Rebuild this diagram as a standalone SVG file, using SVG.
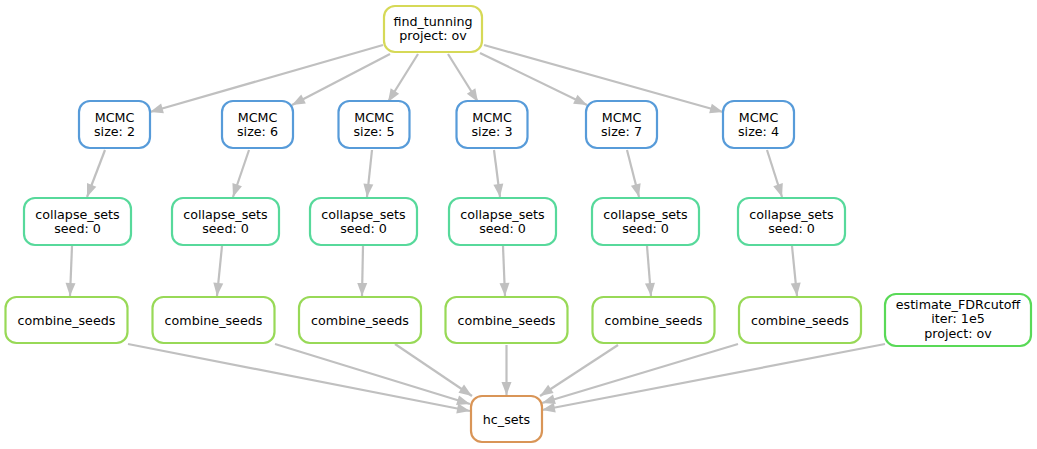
<svg xmlns="http://www.w3.org/2000/svg" width="1037" height="449" viewBox="0 0 1037 449">
<style>
.n rect{fill:#fff;stroke-width:2.2}
.n text{font-family:"DejaVu Sans",Verdana,sans-serif;font-size:12.7px;fill:#000;text-anchor:middle}
.ft rect{stroke:#d6d957}
.mc rect{stroke:#579bd9}
.cs rect{stroke:#57d99b}
.cb rect{stroke:#98d957}
.ef rect{stroke:#59d957}
.hc rect{stroke:#d99557}
#edges line{stroke:#c0c0c0;stroke-width:2.2;fill:none;marker-end:url(#arr)}
</style>
<defs>
<marker id="arr" markerUnits="userSpaceOnUse" markerWidth="16" markerHeight="14" viewBox="0 -7 16 14" refX="13" refY="0" orient="auto" overflow="visible">
<path d="M0,-5 L13,0 L0,5 z" fill="#c0c0c0"/>
</marker>
</defs>
<rect width="1037" height="449" fill="#fff"/>
<g id="edges">
<line x1="383" y1="45" x2="150" y2="112"/>
<line x1="390" y1="54" x2="292" y2="105"/>
<line x1="418" y1="54" x2="388" y2="102"/>
<line x1="448" y1="54" x2="478" y2="102"/>
<line x1="480" y1="53" x2="587" y2="105"/>
<line x1="484" y1="45" x2="723" y2="112"/>
<line x1="105" y1="150" x2="87" y2="197"/>
<line x1="249" y1="150" x2="233" y2="197"/>
<line x1="372" y1="150" x2="367" y2="197"/>
<line x1="494" y1="150" x2="500" y2="197"/>
<line x1="627" y1="150" x2="639" y2="197"/>
<line x1="767" y1="150" x2="782" y2="197"/>
<line x1="72" y1="246" x2="70" y2="296"/>
<line x1="222" y1="246" x2="217" y2="296"/>
<line x1="363" y1="246" x2="362" y2="296"/>
<line x1="503" y1="246" x2="505" y2="296"/>
<line x1="647" y1="246" x2="651" y2="296"/>
<line x1="792" y1="246" x2="797" y2="296"/>
<line x1="128" y1="344" x2="470" y2="411"/>
<line x1="275" y1="344" x2="470" y2="404"/>
<line x1="395" y1="344" x2="472" y2="396"/>
<line x1="506.5" y1="345" x2="506.5" y2="395"/>
<line x1="618" y1="345" x2="540" y2="396"/>
<line x1="738" y1="344" x2="542" y2="403"/>
<line x1="885" y1="344" x2="542" y2="410"/>
</g>
<g id="find_tunning" class="n ft"><rect x="384" y="6" width="98" height="46" rx="11"/><text x="433" y="26">find_tunning</text><text x="433" y="40">project: ov</text></g>
<g id="mcmc_2" class="n mc"><rect x="79" y="101" width="71" height="47" rx="11"/><text x="114.5" y="122">MCMC</text><text x="114.5" y="136">size: 2</text></g>
<g id="mcmc_6" class="n mc"><rect x="222" y="101" width="71" height="47" rx="11"/><text x="257.5" y="122">MCMC</text><text x="257.5" y="136">size: 6</text></g>
<g id="mcmc_5" class="n mc"><rect x="338.5" y="101" width="71" height="47" rx="11"/><text x="374" y="122">MCMC</text><text x="374" y="136">size: 5</text></g>
<g id="mcmc_3" class="n mc"><rect x="456.5" y="101" width="71" height="47" rx="11"/><text x="492" y="122">MCMC</text><text x="492" y="136">size: 3</text></g>
<g id="mcmc_7" class="n mc"><rect x="586" y="101" width="71" height="47" rx="11"/><text x="621.5" y="122">MCMC</text><text x="621.5" y="136">size: 7</text></g>
<g id="mcmc_4" class="n mc"><rect x="723" y="101" width="71" height="47" rx="11"/><text x="758.5" y="122">MCMC</text><text x="758.5" y="136">size: 4</text></g>
<g id="collapse_1" class="n cs"><rect x="24" y="198" width="107" height="47" rx="11"/><text x="77.5" y="219">collapse_sets</text><text x="77.5" y="233">seed: 0</text></g>
<g id="collapse_2" class="n cs"><rect x="172" y="198" width="107" height="47" rx="11"/><text x="225.5" y="219">collapse_sets</text><text x="225.5" y="233">seed: 0</text></g>
<g id="collapse_3" class="n cs"><rect x="310" y="198" width="107" height="47" rx="11"/><text x="363.5" y="219">collapse_sets</text><text x="363.5" y="233">seed: 0</text></g>
<g id="collapse_4" class="n cs"><rect x="449" y="198" width="107" height="47" rx="11"/><text x="502.5" y="219">collapse_sets</text><text x="502.5" y="233">seed: 0</text></g>
<g id="collapse_5" class="n cs"><rect x="592" y="198" width="107" height="47" rx="11"/><text x="645.5" y="219">collapse_sets</text><text x="645.5" y="233">seed: 0</text></g>
<g id="collapse_6" class="n cs"><rect x="738" y="198" width="107" height="47" rx="11"/><text x="791.5" y="219">collapse_sets</text><text x="791.5" y="233">seed: 0</text></g>
<g id="combine_1" class="n cb"><rect x="5.5" y="297" width="122" height="46" rx="11"/><text x="66.5" y="324.5">combine_seeds</text></g>
<g id="combine_2" class="n cb"><rect x="152.5" y="297" width="122" height="46" rx="11"/><text x="213.5" y="324.5">combine_seeds</text></g>
<g id="combine_3" class="n cb"><rect x="299" y="297" width="122" height="46" rx="11"/><text x="360" y="324.5">combine_seeds</text></g>
<g id="combine_4" class="n cb"><rect x="445.5" y="297" width="122" height="46" rx="11"/><text x="506.5" y="324.5">combine_seeds</text></g>
<g id="combine_5" class="n cb"><rect x="592.5" y="297" width="122" height="46" rx="11"/><text x="653.5" y="324.5">combine_seeds</text></g>
<g id="combine_6" class="n cb"><rect x="739" y="297" width="122" height="46" rx="11"/><text x="800" y="324.5">combine_seeds</text></g>
<g id="estimate_FDRcutoff" class="n ef"><rect x="885" y="294" width="146" height="52" rx="11"/><text x="958" y="308.5">estimate_FDRcutoff</text><text x="958" y="323">iter: 1e5</text><text x="958" y="337.5">project: ov</text></g>
<g id="hc_sets" class="n hc"><rect x="471" y="396" width="71" height="46" rx="11"/><text x="506.5" y="423.5">hc_sets</text></g>
</svg>
